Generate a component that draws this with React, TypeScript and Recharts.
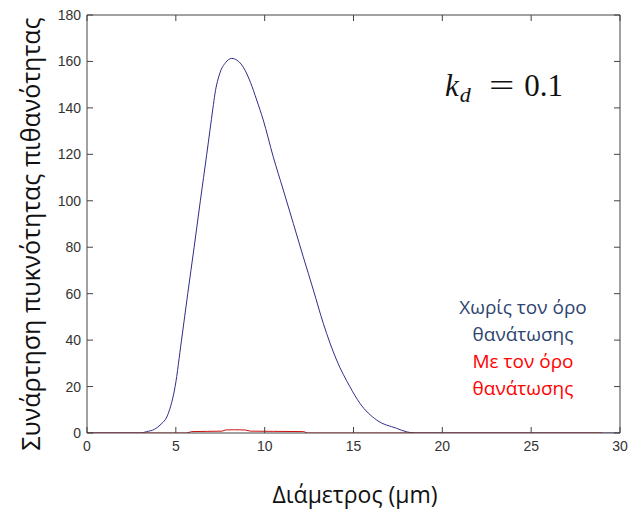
import { LineChart, Line, XAxis, YAxis } from 'recharts';

// diameter (μm) and density for the curve without the death term
const diameterNoDeath = [0, 3.0, 3.36, 3.8, 4.11, 4.58, 4.96, 5.32, 5.67, 6.03, 6.38, 6.74, 7.09, 7.2, 7.48, 7.8, 8.14, 8.45, 8.8, 9.2, 9.55, 9.92, 10.48, 11.05, 11.61, 12.17, 12.74, 13.3, 14.05, 14.8, 15.36, 16.3, 17.43, 17.99, 18.5, 30];
const densityNoDeath = [0, 0, 0.6, 1.6, 3.4, 8.5, 20, 40, 60, 80, 100, 120, 140, 146, 155, 159.5, 161.3, 160.5, 157.5, 151, 143.4, 134.8, 119, 104.6, 90.3, 75.9, 61.6, 47.2, 31.4, 19.9, 12.8, 5.6, 2, 0.5, 0, 0];

// diameter (μm) and density for the curve with the death term
const diameterDeath = [0, 5.6, 5.9, 6.8, 7.6, 7.8, 8.3, 8.9, 9.2, 10.5, 12.2, 12.4, 29];
const densityDeath = [0, 0, 0.6, 0.7, 0.8, 1.3, 1.4, 1.3, 0.8, 0.7, 0.6, 0, 0];

const xTicks = [0, 5, 10, 15, 20, 25, 30];
const yTicks = [0, 20, 40, 60, 80, 100, 120, 140, 160, 180];

const noDeathData = diameterNoDeath.map((d, i) => ({ d, p: densityNoDeath[i] }));
const deathData = diameterDeath.map((d, i) => ({ d, p: densityDeath[i] }));

const frame = '#444';
const TICK = 6;
const GAP_X = 7; // tickMargin of the bottom axis
const GAP_Y = 6; // tickMargin of the left axis
const calibri = '"Open Sans", "Noto Sans", sans-serif';
const labelFont = 'Liberation Sans, Arial, sans-serif';

// MATLAB style: tick marks point into the plot box
const bottomTick = (props: any) => {
  const { x, y, payload } = props;
  const axisY = y - GAP_X;
  return (
    <g key={`b-${payload.value}`}>
      <line x1={x} y1={axisY} x2={x} y2={axisY - TICK} stroke={frame} strokeWidth={1} />
      <text x={x} y={y} dy={11} textAnchor="middle" fontFamily={labelFont} fontSize={14} fill="#333">{payload.value}</text>
    </g>
  );
};

const leftTick = (props: any) => {
  const { x, y, payload } = props;
  const axisX = x + GAP_Y;
  return (
    <g key={`l-${payload.value}`}>
      <line x1={axisX} y1={y} x2={axisX + TICK} y2={y} stroke={frame} strokeWidth={1} />
      <text x={x} y={y} dy={5} textAnchor="end" fontFamily={labelFont} fontSize={14} fill="#333">{payload.value}</text>
    </g>
  );
};

const topTick = (props: any) => {
  const { x, y, payload } = props;
  return <line key={`t-${payload.value}`} x1={x} y1={y} x2={x} y2={y + TICK} stroke={frame} strokeWidth={1} />;
};

const rightTick = (props: any) => {
  const { x, y, payload } = props;
  return <line key={`r-${payload.value}`} x1={x} y1={y} x2={x - TICK} y2={y} stroke={frame} strokeWidth={1} />;
};

export default function App() {
  return (
    <div style={{ position: 'absolute', left: 0, top: 0, width: 630, height: 512, background: '#fff' }}>
      <LineChart width={630} height={512} margin={{ top: 14, right: 9, bottom: 49, left: 47 }}>
        <XAxis
          xAxisId="b" dataKey="d" type="number" domain={[0, 30]} ticks={xTicks}
          height={30} tickSize={0} tickMargin={GAP_X} tick={bottomTick} tickLine={false}
          stroke={frame} allowDataOverflow
        />
        <XAxis
          xAxisId="t" orientation="top" dataKey="d" type="number" domain={[0, 30]} ticks={xTicks}
          height={1} tickSize={0} tickMargin={0} tick={topTick} tickLine={false}
          stroke={frame} allowDataOverflow
        />
        <YAxis
          yAxisId="l" type="number" domain={[0, 180]} ticks={yTicks}
          width={40} tickSize={0} tickMargin={GAP_Y} tick={leftTick} tickLine={false}
          stroke={frame} allowDataOverflow
        />
        <YAxis
          yAxisId="r" orientation="right" type="number" domain={[0, 180]} ticks={yTicks}
          width={1} tickSize={0} tickMargin={0} tick={rightTick} tickLine={false}
          stroke={frame} allowDataOverflow
        />
        {/* invisible series so the top and right frame axes get drawn */}
        <Line
          xAxisId="t" yAxisId="r" data={noDeathData} dataKey="p" type="linear"
          stroke="transparent" dot={false} isAnimationActive={false}
        />
        <Line
          xAxisId="b" yAxisId="l" data={noDeathData} dataKey="p" type="monotone"
          stroke="#2e2e8a" strokeWidth={1} dot={false} isAnimationActive={false}
        />
        <Line
          xAxisId="b" yAxisId="l" data={deathData} dataKey="p" type="linear"
          stroke="#cc1010" strokeWidth={1} dot={false} isAnimationActive={false}
        />
      </LineChart>

      <div style={{
        position: 'absolute', left: 30, top: 234, transform: 'translate(-50%, -50%) rotate(-90deg)',
        whiteSpace: 'nowrap', fontFamily: calibri, fontSize: 25, color: '#111'
      }}>
        Συνάρτηση πυκνότητας πιθανότητας
      </div>

      <div style={{
        position: 'absolute', left: 355, top: 494, transform: 'translate(-50%, -50%)',
        whiteSpace: 'nowrap', fontFamily: calibri, fontSize: 23, color: '#111'
      }}>
        Διάμετρος (μm)
      </div>

      <div style={{
        position: 'absolute', left: 445, top: 68, whiteSpace: 'nowrap',
        fontFamily: '"Liberation Serif", "DejaVu Serif", serif', fontSize: 31, color: '#111', lineHeight: '36px'
      }}>
        <i>k</i><sub style={{ fontSize: 22, fontStyle: 'italic', verticalAlign: '-6px', marginLeft: 1 }}>d</sub>
        <span style={{ marginLeft: 22, marginRight: 14, display: 'inline-block', transform: 'scaleX(1.45)' }}>=</span>
        0.1
      </div>

      <div style={{
        position: 'absolute', left: 523, top: 294, transform: 'translateX(-50%)', textAlign: 'center',
        whiteSpace: 'nowrap', fontFamily: calibri, fontSize: 19, lineHeight: '27px'
      }}>
        <div style={{ color: '#2f4470' }}>Χωρίς τον όρο</div>
        <div style={{ color: '#2f4470' }}>θανάτωσης</div>
        <div style={{ color: '#ff0000' }}>Με τον όρο</div>
        <div style={{ color: '#ff0000' }}>θανάτωσης</div>
      </div>
    </div>
  );
}
